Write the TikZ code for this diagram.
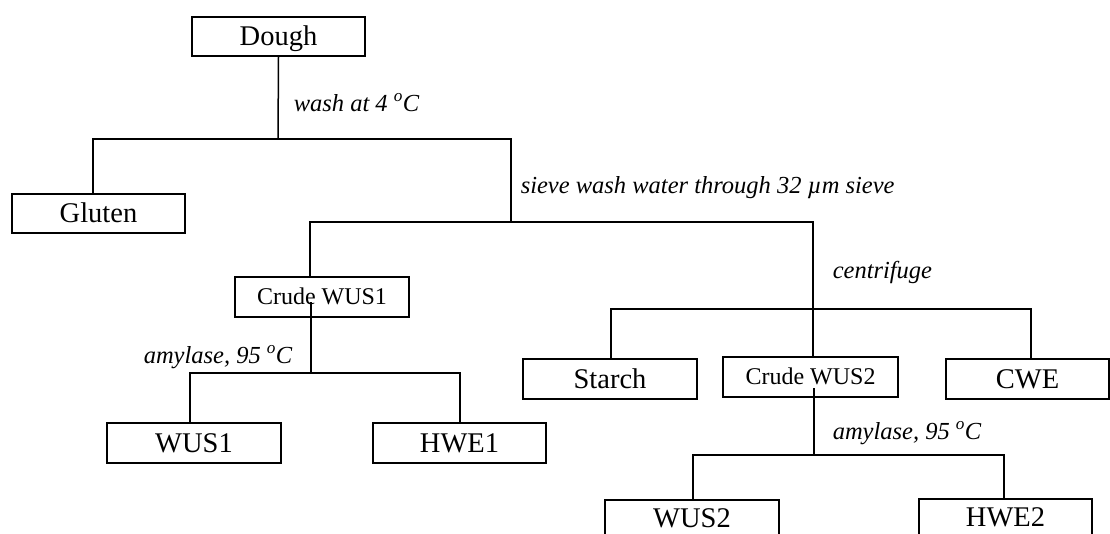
\documentclass[tikz,border=0pt]{standalone}
\usepackage{fontspec}
\setmainfont{Liberation Serif}
\begin{document}
\begin{tikzpicture}[x=1pt,y=-1pt,line width=1.5pt,
  box/.style={draw,line width=1.5pt,inner sep=0pt,font=\fontsize{28.5}{30}\selectfont,text height=18.9pt,text depth=0pt},
  smallbox/.style={box,font=\fontsize{24}{26}\selectfont,text height=15.9pt},
  lab/.style={anchor=base west,inner sep=0pt,font=\fontsize{24.5}{26}\selectfont\itshape}]
\useasboundingbox (0,0) rectangle (1110,533);
% boxes
\node[box,minimum width=173pt,minimum height=39pt] (dough) at (278.5,36.5) {Dough};
\node[box,minimum width=173pt,minimum height=39pt] (gluten) at (98.5,213.5) {Gluten};
\node[smallbox,minimum width=174pt,minimum height=40pt] (cw1) at (322,297) {Crude WUS1};
\node[box,minimum width=174pt,minimum height=40pt] (wus1) at (194,443) {WUS1};
\node[box,minimum width=173pt,minimum height=40pt] (hwe1) at (459.5,443) {HWE1};
\node[box,minimum width=174pt,minimum height=40pt] (starch) at (610,379) {Starch};
\node[smallbox,minimum width=175pt,minimum height=40pt] (cw2) at (810.5,377) {Crude WUS2};
\node[box,minimum width=163pt,minimum height=40pt] (cwe) at (1027.5,379) {CWE};
\node[box,minimum width=174pt,minimum height=37pt] (wus2) at (692,518.5) {WUS2};
\node[box,minimum width=173pt,minimum height=37pt] (hwe2) at (1005.5,517.5) {HWE2};
% junctions
\coordinate (j1) at (278,139);
\coordinate (j1l) at (93,139);
\coordinate (j1r) at (511,139);
\coordinate (j2) at (511,222);
\coordinate (j2l) at (310,222);
\coordinate (j2r) at (813,222);
\coordinate (j4l) at (611,309);
\coordinate (j4r) at (1031,309);
\coordinate (c1) at (311,302);
\coordinate (j3) at (311,373);
\coordinate (j3l) at (190,373);
\coordinate (j3r) at (460,373);
\coordinate (c2) at (814,388);
\coordinate (j5) at (814,455);
\coordinate (j5l) at (693,455);
\coordinate (j5r) at (1004,455);
% connectors
\draw (dough.south) -- (j1);
\draw (j1l |- gluten.north) -- (j1l) -- (j1r) -- (j2);
\draw (j2l |- cw1.north) -- (j2l) -- (j2r) -- (j2r |- cw2.north);
\draw (j4l |- starch.north) -- (j4l) -- (j4r) -- (j4r |- cwe.north);
\draw (c1) -- (j3);
\draw (j3l |- wus1.north) -- (j3l) -- (j3r) -- (j3r |- hwe1.north);
\draw (c2) -- (j5);
\draw (j5l |- wus2.north) -- (j5l) -- (j5r) -- (j5r |- hwe2.north);
% labels
\node[lab] (lwash) at (293,111) {wash at 4 \textsuperscript{o}C};
\node[lab] (lsieve) at (520,193) {sieve wash water through 32 µm sieve};
\node[lab] (lcent) at (832,278) {centrifuge};
\node[lab] (lamy1) at (143,363) {amylase, 95 \textsuperscript{o}C};
\node[lab] (lamy2) at (832,439) {amylase, 95 \textsuperscript{o}C};
\end{tikzpicture}
\end{document}
